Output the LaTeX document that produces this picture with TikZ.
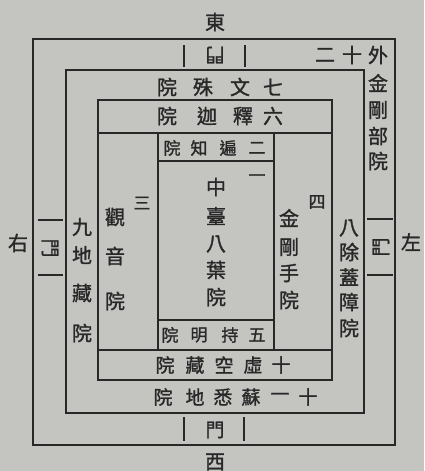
\documentclass[tikz,border=0pt]{standalone}
\usepackage{fontspec}
\newfontfamily\cjk[FakeBold=1.3]{Noto Sans CJK TC}
\definecolor{paper}{RGB}{196,196,193}
\definecolor{ink}{RGB}{40,40,40}
\tikzset{
  frame/.style={draw=ink,line width=1.2pt},
  outerframe/.style={draw=ink,line width=2.6pt},
  gatemark/.style={draw=ink,line width=2pt},
  ch/.style={text=ink,inner sep=0pt,font=\cjk\fontsize{20}{20}\selectfont},
  chs/.style={text=ink,inner sep=0pt,font=\cjk\fontsize{17}{17}\selectfont},
  chm/.style={text=ink,inner sep=0pt,font=\cjk\fontsize{19}{19}\selectfont},
}
\begin{document}
\begin{tikzpicture}[x=1pt,y=-1pt]
\fill[paper] (0,0) rectangle (424,471);
\useasboundingbox (0,0) rectangle (424,471);
% frames
\draw[outerframe] (33,39) rectangle (395,445);
\draw[frame] (66,70) rectangle (364,413);
\draw[frame] (98,100) rectangle (332,380);
\draw[frame] (98,133) -- (332,133);
\draw[frame] (98,350) -- (332,350);
\draw[frame] (158,133) -- (158,350);
\draw[frame] (274,133) -- (274,350);
\draw[frame] (158,161) -- (274,161);
\draw[frame] (158,320) -- (274,320);
% gates
\draw[gatemark] (184,45) -- (184,67);
\draw[gatemark] (245,45) -- (245,67);
\draw[gatemark] (184,417) -- (184,441);
\draw[gatemark] (244,417) -- (244,441);
\draw[gatemark] (38,220) -- (63,220);
\draw[gatemark] (38,275) -- (63,275);
\draw[gatemark] (367,219) -- (393,219);
\draw[gatemark] (367,275) -- (393,275);
\node[chm,rotate=180] (gateE) at (215,55) {門};
\node[chm] (gateW) at (215,430) {門};
\node[chm,rotate=-90] (gateR) at (50,248) {門};
\node[chm,rotate=90] (gateL) at (381,247) {門};
% directions
\node[ch] (east) at (215,22) {東};
\node[ch] (west) at (215,462) {西};
\node[ch] (right) at (18,243) {右};
\node[ch] (left) at (411,242) {左};
% horizontal rows
\foreach \c/\x [count=\i] in {院/167,殊/203,文/240,七/273}
  \node[ch] (wenshu\i) at (\x,87) {\c};
\foreach \c/\x [count=\i] in {院/167,迦/207,釋/243,六/273}
  \node[ch] (shijia\i) at (\x,116) {\c};
\foreach \c/\x [count=\i] in {院/172,知/199,遍/228,二/257}
  \node[chs] (bianzhi\i) at (\x,148) {\c};
\foreach \c/\x [count=\i] in {院/170,明/199,持/230,五/257}
  \node[chs] (chiming\i) at (\x,335) {\c};
\foreach \c/\x [count=\i] in {院/165,藏/195,空/224,虛/253,十/281}
  \node[chm] (xukong\i) at (\x,365) {\c};
\foreach \c/\x [count=\i] in {院/163,地/195,悉/223,蘇/251,一/280,十/308}
  \node[chm] (suxidi\i) at (\x,397) {\c};
\foreach \c/\x [count=\i] in {二/325,十/352}
  \node[ch] (twelve\i) at (\x,55) {\c};
% vertical columns
\foreach \c/\y [count=\i] in {外/55,金/83,剛/110,部/136,院/161}
  \node[ch] (wai\i) at (378,\y) {\c};
\foreach \c/\y [count=\i] in {九/227,地/255,藏/293,院/333}
  \node[ch] (dizang\i) at (82,\y) {\c};
\node[chs] (three) at (142,203) {三};
\foreach \c/\y [count=\i] in {觀/217,音/256,院/301}
  \node[ch] (guanyin\i) at (115,\y) {\c};
\node[chs] (four) at (317,202) {四};
\foreach \c/\y [count=\i] in {金/218,剛/247,手/273,院/300}
  \node[ch] (jingang\i) at (289,\y) {\c};
\foreach \c/\y [count=\i] in {八/228,除/252,蓋/277,障/302,院/328}
  \node[ch] (chugai\i) at (349,\y) {\c};
\node[chs] (one) at (257,178) {一};
\foreach \c/\y [count=\i] in {中/187,臺/216,八/244,葉/270,院/297}
  \node[ch] (zhongtai\i) at (216,\y) {\c};
\end{tikzpicture}
\end{document}
